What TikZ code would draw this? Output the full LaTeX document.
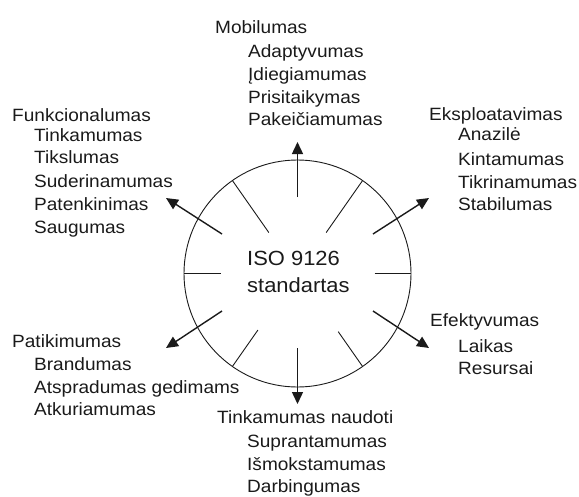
\documentclass[tikz,border=0pt]{standalone}
\usepackage{fontspec}
\setmainfont{Liberation Sans}[FakeStretch=1.07]
\usetikzlibrary{arrows.meta}
\definecolor{ink}{HTML}{1A1A1A}
\begin{document}
\begin{tikzpicture}[x=1pt,y=-1pt,
  lbl/.style={anchor=base west,inner sep=0pt,font=\fontsize{17.8}{21}\selectfont,text=ink},
  hub/.style={anchor=base west,inner sep=0pt,font=\fontsize{20.5}{26}\selectfont,text=ink},
  ring/.style={draw=ink,line width=0.9pt},
  tickline/.style={draw=ink,line width=0.9pt},
  outarrow/.style={draw=ink,line width=1.4pt,-{Triangle[length=12pt,width=11pt]}}]
\useasboundingbox (0,0) rectangle (579,496);

% central circle with radial tick marks
\coordinate (c) at (297.5,273.5);
\draw[ring] (c) circle[radius=113.5pt];
\foreach \a/\r in {0/77,55/50,125/50,180/77,235/69,305/71}
  \draw[tickline] ([shift={(\a:\r pt)}]c) -- ([shift={(\a:113.5pt)}]c);

\node[hub] (iso) at (247,265) {ISO 9126};
\node[hub] (std) at (247,292) {standartas};

% arrows from the circle towards the characteristic groups
\coordinate (sN)  at (297.5,197);  \coordinate (eN)  at (297.5,142);
\coordinate (sNE) at (373,234);    \coordinate (eNE) at (429,198);
\coordinate (sNW) at (222,234);    \coordinate (eNW) at (166,198);
\coordinate (sSW) at (222,311);    \coordinate (eSW) at (166,348);
\coordinate (sSE) at (373,311);    \coordinate (eSE) at (429,348);
\coordinate (sS)  at (297.5,348);  \coordinate (eS)  at (297.5,404);
\foreach \d in {N,NE,NW,SW,SE,S}
  \draw[outarrow] (s\d) -- (e\d);

% Mobilumas
\node[lbl] (mob) at (215,33) {Mobilumas};
\node[lbl] (mob1) at (248,57) {Adaptyvumas};
\node[lbl] (mob2) at (248,80) {Įdiegiamumas};
\node[lbl] (mob3) at (248,103) {Prisitaikymas};
\node[lbl] (mob4) at (248,125) {Pakeičiamumas};

% Funkcionalumas
\node[lbl] (fun) at (12,121) {Funkcionalumas};
\node[lbl] (fun1) at (34,141) {Tinkamumas};
\node[lbl] (fun2) at (34,163) {Tikslumas};
\node[lbl] (fun3) at (34,187) {Suderinamumas};
\node[lbl] (fun4) at (34,210) {Patenkinimas};
\node[lbl] (fun5) at (34,233) {Saugumas};

% Eksploatavimas
\node[lbl] (eks) at (429,120) {Eksploatavimas};
\node[lbl] (eks1) at (458,140) {Anazilė};
\node[lbl] (eks2) at (458,165) {Kintamumas};
\node[lbl] (eks3) at (458,188) {Tikrinamumas};
\node[lbl] (eks4) at (458,210) {Stabilumas};

% Efektyvumas
\node[lbl] (efe) at (430,326) {Efektyvumas};
\node[lbl] (efe1) at (458,352) {Laikas};
\node[lbl] (efe2) at (458,374) {Resursai};

% Patikimumas
\node[lbl] (pat) at (12,347) {Patikimumas};
\node[lbl] (pat1) at (34,370) {Brandumas};
\node[lbl] (pat2) at (34,393) {Atspradumas gedimams};
\node[lbl] (pat3) at (34,415) {Atkuriamumas};

% Tinkamumas naudoti
\node[lbl] (nau) at (217,423) {Tinkamumas naudoti};
\node[lbl] (nau1) at (247,447) {Suprantamumas};
\node[lbl] (nau2) at (247,470) {Išmokstamumas};
\node[lbl] (nau3) at (247,492) {Darbingumas};
\end{tikzpicture}
\end{document}
